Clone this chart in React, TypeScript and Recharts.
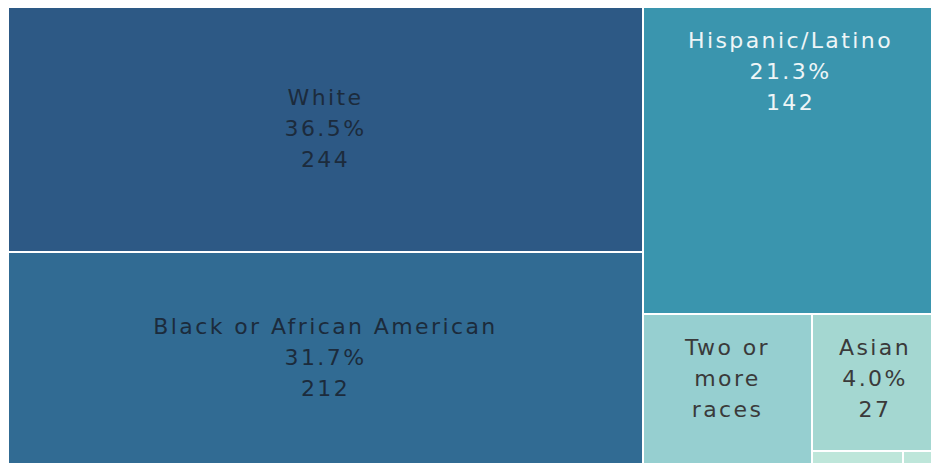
import { Treemap } from "recharts";

// race / ethnicity counts, largest first
const categories = [
  "White",
  "Black or African American",
  "Hispanic/Latino",
  "Two or more races",
  "Asian",
  "American Indian or Alaska Native",
  "Native Hawaiian or Other Pacific Islander",
];
const counts = [244, 212, 142, 40, 27, 2, 1];

const cellColors = ["#2d5985", "#316b93", "#3a95ae", "#96cfd0", "#a4d7d1", "#bee6da", "#bee6da"];
const textColors = ["#1c2b3c", "#1c2b3c", "#eef5f7", "#3a3a3a", "#3a3a3a", "#3a3a3a", "#3a3a3a"];

const total = counts.reduce((a, b) => a + b, 0);
const data = categories.map((name, i) => ({ name, value: counts[i] }));

const FONT = "DejaVu Sans";
const FONT_SIZE = 22;
const SPACING = 2.4;
const LINE_H = 31;

let ctx: CanvasRenderingContext2D | null = null;
function textWidth(s: string): number {
  if (!ctx) {
    ctx = document.createElement("canvas").getContext("2d");
    if (ctx) ctx.font = `${FONT_SIZE}px "${FONT}"`;
  }
  const w = ctx ? ctx.measureText(s).width : s.length * 12;
  return w + s.length * SPACING;
}

function wrap(text: string, maxW: number): string[] {
  const words = text.split(" ");
  const out: string[] = [];
  let cur = "";
  for (const w of words) {
    const next = cur ? cur + " " + w : w;
    if (cur && textWidth(next) > maxW) {
      out.push(cur);
      cur = w;
    } else {
      cur = next;
    }
  }
  if (cur) out.push(cur);
  return out;
}

function CellContent(props: any) {
  const { x, y, width, height, depth, name, value } = props;
  if (depth !== 1) return null;
  const i = categories.indexOf(name);
  const maxLines = Math.floor((height - 30) / LINE_H);
  const avail = width - 40;
  let lines: string[] = [];
  if (maxLines > 0 && avail > 20) {
    const all = [
      ...wrap(name, avail),
      `${((value / total) * 100).toFixed(1)}%`,
      `${value}`,
    ];
    lines = all.slice(0, maxLines);
  }
  // narrow cells get their label near the top, wide ones centred
  const firstY =
    width < 300
      ? y + 33
      : y + height / 2 - ((lines.length - 1) * LINE_H) / 2 - 1;
  return (
    <g>
      <rect
        x={x}
        y={y}
        width={width}
        height={height}
        fill={cellColors[i]}
        stroke="#ffffff"
        strokeWidth={2}
      />
      {lines.map((t, k) => (
        <text
          key={k}
          x={x + width / 2}
          y={firstY + k * LINE_H}
          textAnchor="middle"
          dominantBaseline="central"
          fill={textColors[i]}
          fontFamily={FONT}
          fontSize={FONT_SIZE}
          letterSpacing={SPACING}
          stroke="none"
        >
          {t}
        </text>
      ))}
    </g>
  );
}

export default function App() {
  return (
    <div
      style={{
        position: "fixed",
        left: 0,
        top: 0,
        width: 931,
        height: 463,
        overflow: "hidden",
        background: "#ffffff",
      }}
    >
      <div style={{ position: "absolute", left: 8, top: 7 }}>
        <Treemap
          width={930}
          height={458}
          data={data}
          dataKey="value"
          nameKey="name"
          isAnimationActive={false}
          content={<CellContent />}
        />
      </div>
    </div>
  );
}
